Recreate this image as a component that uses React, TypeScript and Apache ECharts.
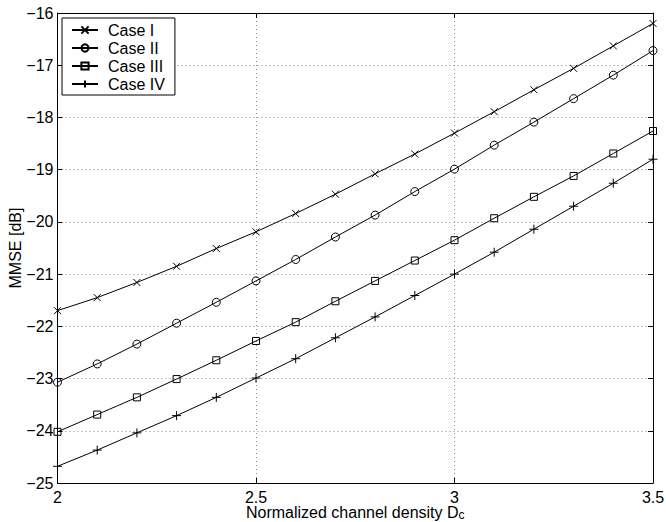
import React, { useEffect, useRef } from "react";
import * as echarts from "echarts";

const xValues = [2, 2.1, 2.2, 2.3, 2.4, 2.5, 2.6, 2.7, 2.8, 2.9, 3.0, 3.1, 3.2, 3.3, 3.4, 3.5];
const caseI = [-21.7, -21.45, -21.16, -20.85, -20.51, -20.19, -19.84, -19.47, -19.08, -18.7, -18.3, -17.89, -17.47, -17.06, -16.63, -16.2];
const caseII = [-23.07, -22.72, -22.34, -21.94, -21.54, -21.13, -20.72, -20.29, -19.87, -19.42, -18.99, -18.53, -18.09, -17.64, -17.19, -16.72];
const caseIII = [-24.02, -23.69, -23.36, -23.01, -22.65, -22.28, -21.92, -21.52, -21.13, -20.74, -20.35, -19.93, -19.52, -19.12, -18.69, -18.26];
const caseIV = [-24.68, -24.37, -24.04, -23.71, -23.36, -22.99, -22.62, -22.22, -21.82, -21.41, -21.0, -20.58, -20.14, -19.7, -19.26, -18.8];
const seriesNames = ["Case I", "Case II", "Case III", "Case IV"];

const SYM_X = "path://M0,0L10,10M10,0L0,10";
const SYM_PLUS = "path://M5,0L5,10M0,5L10,5";
const SYM_CIRCLE = "circle";
const SYM_RECT = "rect";

const FONT = "'Liberation Sans', Arial, Helvetica, sans-serif";

export default function App() {
  const ref = useRef<HTMLDivElement>(null);
  useEffect(() => {
    if (!ref.current) return;
    const chart = echarts.init(ref.current, null, { renderer: "svg" });
    const mk = (name: string, vals: number[], symbol: string, size: number) => ({
      name,
      type: "line",
      data: xValues.map((x, i) => [x, vals[i]]),
      symbol,
      symbolSize: size,
      showAllSymbol: true,
      lineStyle: { color: "#000", width: 1 },
      itemStyle: { color: "none", borderColor: "#000", borderWidth: 1 },
      emphasis: { disabled: true },
      xAxisIndex: 0,
      yAxisIndex: 0,
    });
    const fmtY = (v: number) => String(v).replace("-", "\u2212");
    const gridLine = { show: true, lineStyle: { color: "#888", type: [1, 3], width: 1 } };
    chart.setOption({
      animation: false,
      backgroundColor: "#fff",
      textStyle: { fontFamily: FONT },
      grid: { left: 57.5, right: 13, top: 13, bottom: 39, containLabel: false, outerBoundsMode: "none" },
      legend: {
        left: 62,
        top: 18,
        orient: "vertical",
        data: seriesNames,
        itemWidth: 26,
        itemHeight: 9,
        itemGap: 2,
        padding: [4, 10, 3, 9],
        backgroundColor: "#fff",
        borderColor: "#000",
        borderWidth: 1,
        borderRadius: 0,
        textStyle: { color: "#000", fontSize: 16, fontFamily: FONT, padding: [0, 0, 0, 5] },
      },
      xAxis: [
        {
          type: "value",
          min: 2,
          max: 3.5,
          interval: 0.5,
          position: "bottom",
          name: "{a|Normalized channel density D}{s|c}",
          nameLocation: "middle",
          nameGap: 21,
          nameMoveOverlap: false,
          nameTextStyle: {
            rich: {
              a: { fontSize: 16, lineHeight: 12, color: "#000", fontFamily: FONT, verticalAlign: "top" },
              s: { fontSize: 12, lineHeight: 12, color: "#000", fontFamily: FONT, verticalAlign: "top", padding: [5, 0, 0, 0] },
            },
          },
          axisLine: { show: true, lineStyle: { color: "#000", width: 1 } },
          axisTick: { show: true, inside: true, length: 5, lineStyle: { color: "#000" } },
          axisLabel: { color: "#000", fontSize: 16, lineHeight: 12, margin: 8, fontFamily: FONT },
          splitLine: gridLine,
        },
        {
          type: "value",
          min: 2,
          max: 3.5,
          interval: 0.5,
          position: "top",
          axisLine: { show: true, lineStyle: { color: "#000", width: 1 } },
          axisTick: { show: true, inside: true, length: 5, lineStyle: { color: "#000" } },
          axisLabel: { show: false },
          splitLine: { show: false },
        },
      ],
      yAxis: [
        {
          type: "value",
          min: -25,
          max: -16,
          interval: 1,
          position: "left",
          name: "MMSE [dB]",
          nameLocation: "middle",
          nameGap: 34,
          nameMoveOverlap: false,
          nameTextStyle: { color: "#000", fontSize: 16, fontFamily: FONT },
          axisLine: { show: true, lineStyle: { color: "#000", width: 1 } },
          axisTick: { show: true, inside: true, length: 5, lineStyle: { color: "#000" } },
          axisLabel: { color: "#000", fontSize: 16, margin: 4, fontFamily: FONT, formatter: fmtY },
          splitLine: gridLine,
        },
        {
          type: "value",
          min: -25,
          max: -16,
          interval: 1,
          position: "right",
          axisLine: { show: true, lineStyle: { color: "#000", width: 1 } },
          axisTick: { show: true, inside: true, length: 5, lineStyle: { color: "#000" } },
          axisLabel: { show: false },
          splitLine: { show: false },
        },
      ],
      series: [
        mk(seriesNames[0], caseI, SYM_X, 7),
        mk(seriesNames[1], caseII, SYM_CIRCLE, 8),
        mk(seriesNames[2], caseIII, SYM_RECT, 7),
        mk(seriesNames[3], caseIV, SYM_PLUS, 9),
      ],
    });
    return () => chart.dispose();
  }, []);
  return <div ref={ref} style={{ width: 666, height: 522, position: "absolute", left: 0, top: 0 }} />;
}
